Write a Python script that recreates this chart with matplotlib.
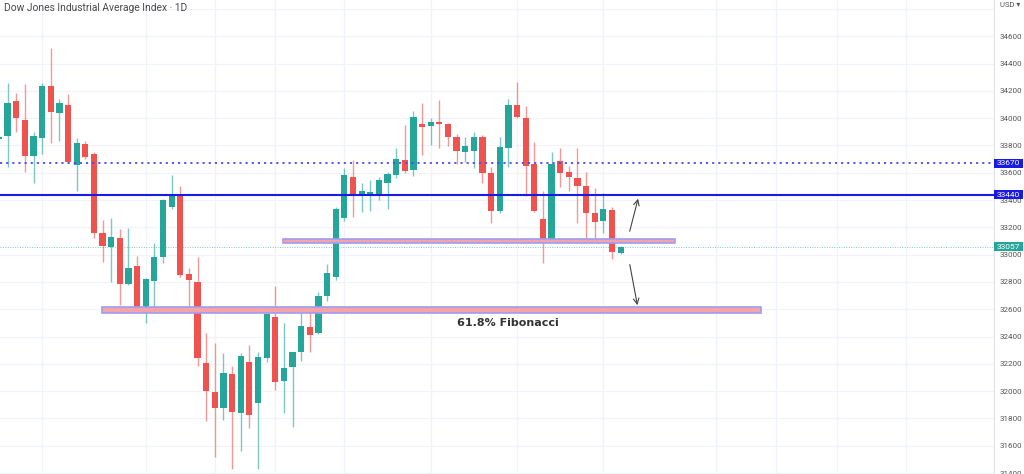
import numpy as np
import matplotlib
matplotlib.use('Agg')
import matplotlib.pyplot as plt
from matplotlib.patches import Rectangle
from matplotlib.transforms import blended_transform_factory

# daily OHLC (oldest first)
opens = [33848, 33870, 34126, 33987, 33723, 33857, 34236, 34036, 34097, 33657,
         33811, 33738, 33157, 33059, 33125, 32785, 32919, 32615, 32807, 32981,
         33347, 33432, 32859, 32802, 32209, 31996, 31875, 32126, 31838, 32216,
         31911, 32241, 32546, 32075, 32180, 32285, 32473, 32424, 32697, 32834,
         33267, 33571, 33432, 33440, 33445, 33523, 33584, 33694, 33621, 33955,
         33945, 33970, 33955, 33864, 33755, 33760, 33864, 33601, 33322, 33784,
         34097, 34004, 33662, 33259, 33108, 33689, 33604, 33560, 33503, 33308,
         33249, 33327, 33010]
highs = [33877, 34256, 34182, 34248, 33901, 34260, 34517, 34139, 34175, 33853,
         33835, 33752, 33254, 33271, 33186, 33193, 32993, 32831, 33089, 33408,
         33584, 33501, 32905, 32985, 32424, 32355, 32278, 32187, 32278, 32338,
         32285, 32602, 32771, 32502, 32289, 32571, 32582, 32729, 32930, 33352,
         33637, 33694, 33527, 33547, 33571, 33608, 33780, 33950, 34055, 34109,
         33999, 34133, 33963, 33884, 33860, 33901, 33877, 33645, 33864, 34139,
         34267, 34089, 33828, 33469, 33755, 33780, 33650, 33780, 33608, 33486,
         33450, 33352, 33064]
lows = [33840, 33642, 33901, 33608, 33523, 33736, 33821, 33833, 33670, 33469,
        33699, 33120, 32949, 32802, 32631, 32778, 32575, 32497, 32615, 32937,
        33333, 32833, 32607, 32185, 31782, 31520, 31789, 31428, 31564, 31728,
        31428, 32216, 32009, 31842, 31736, 32223, 32289, 32419, 32663, 32815,
        33249, 33274, 33315, 33322, 33401, 33333, 33560, 33596, 33577, 33730,
        33804, 33784, 33796, 33664, 33681, 33635, 33527, 33234, 33308, 33645,
        34000, 33432, 33310, 32937, 33100, 33498, 33469, 33234, 33108, 33108,
        33161, 32966, 33003]
closes = [33864, 34109, 33999, 33723, 33870, 34236, 34043, 34109, 33677, 33821,
          33714, 33157, 33066, 33127, 32785, 32905, 32615, 32824, 32981, 33401,
          33446, 32851, 32815, 32241, 32001, 31875, 32131, 31845, 32258, 31826,
          32248, 32566, 32070, 32172, 32285, 32480, 32412, 32697, 32864, 33333,
          33584, 33430, 33467, 33459, 33547, 33591, 33701, 33613, 34007, 33938,
          33974, 33955, 33864, 33762, 33796, 33864, 33601, 33322, 33791, 34097,
          34007, 33652, 33320, 33103, 33662, 33596, 33571, 33503, 33308, 33242,
          33333, 33022, 33057]

resistance = 33670
support = 33440
last_price = 33057
zone_top = (33082, 33115)
fib_zone = (32570, 32620)
grid_prices = list(range(31400, 34801, 200))
price_ticks = list(range(31400, 34601, 200))
time_grid = [5, 17, 25, 32, 40, 50, 60, 70, 83, 90, 97, 105]

UP = '#26a69a'
DOWN = '#ef5350'

plt.rcParams['font.family'] = ['Roboto', 'DejaVu Sans']

fig = plt.figure(figsize=(10.24, 4.74), dpi=100)
ax = fig.add_axes([0, 0, 994 / 1024, 1])

o = np.array(opens); h = np.array(highs); l = np.array(lows); c = np.array(closes)
x = np.arange(len(o))
up = c >= o
cols = np.where(up, UP, DOWN)

ax.vlines(x, l, h, colors=cols, linewidth=1.0, alpha=0.6, zorder=3)
body_lo = np.minimum(o, c)
body_h = np.maximum(np.abs(c - o), 12)
ax.bar(x, body_h, bottom=body_lo, width=0.72, color=cols, linewidth=0, zorder=4)

ax.set_xlim(0.12, 115.24)
ax.set_ylim(31393, 34866)

# grid
for g in time_grid:
    ax.axvline(g, color='#f0f3fa', linewidth=0.9, zorder=0)
for p in grid_prices:
    ax.axhline(p, color='#f0f3fa', linewidth=0.9, zorder=0)

# horizontal levels
ax.axhline(resistance, color='#4b4bf5', linestyle=(0, (1.2, 2.2)), linewidth=1.3, zorder=5)
ax.axhline(support, color='#1a1ae6', linewidth=1.5, zorder=5)
ax.axhline(last_price, color=UP, linestyle=(0, (1, 1.5)), linewidth=0.7, alpha=0.6, zorder=2)

# zones
ax.add_patch(Rectangle((32.9, zone_top[0]), 78.3 - 32.9, zone_top[1] - zone_top[0],
                       facecolor='#f5a3a6', edgecolor='#9d9df5', linewidth=1.2, zorder=6))
ax.add_patch(Rectangle((11.93, fib_zone[0]), 88.26 - 11.93, fib_zone[1] - fib_zone[0],
                       facecolor='#f5a3a6', edgecolor='#9d9df5', linewidth=1.2, zorder=6))
ax.text(58.9, 32497, '61.8% Fibonacci', ha='center', va='center', fontsize=8,
        fontweight='bold', color='#333333', family=['DejaVu Sans'], zorder=7)

# arrows
ax.annotate('', xy=(74.1, 33430), xytext=(72.97, 33152),
            arrowprops=dict(arrowstyle='->', color='#444444', lw=0.8), zorder=7)
ax.annotate('', xy=(74.0, 32610), xytext=(73.0, 32947),
            arrowprops=dict(arrowstyle='->', color='#444444', lw=0.8), zorder=7)

# axis styling
for s in ['top', 'left', 'bottom']:
    ax.spines[s].set_visible(False)
ax.spines['right'].set_color('#e0e3eb')
ax.set_xticks([])
ax.yaxis.tick_right()
ax.set_yticks(price_ticks)
ax.set_yticklabels([str(p) for p in price_ticks])
ax.tick_params(axis='y', length=0, pad=4, labelsize=5.8, labelcolor='#555555')

# price labels on the scale
tr = blended_transform_factory(ax.transAxes, ax.transData)
for price, col in [(resistance, '#1a1ae6'), (support, '#1a1ae6'), (last_price, UP)]:
    ax.add_patch(Rectangle((1.0, price - 33), 29 / 994, 66, transform=tr,
                           facecolor=col, edgecolor='none', clip_on=False, zorder=10))
    ax.text(1.0 + 14.5 / 994, price, str(price), transform=tr, ha='center', va='center',
            fontsize=6, color='white', clip_on=False, zorder=11)

fig.text(4 / 1024, 1 - 8 / 474, 'Dow Jones Industrial Average Index \u00b7 1D',
         ha='left', va='center', fontsize=7.4, color='#4a4a4a')
fig.text(1000 / 1024, 1 - 5 / 474, 'USD \u25be', ha='left', va='center',
         fontsize=5.5, color='#555555')

fig.savefig('out.png', dpi=100, facecolor='white')
